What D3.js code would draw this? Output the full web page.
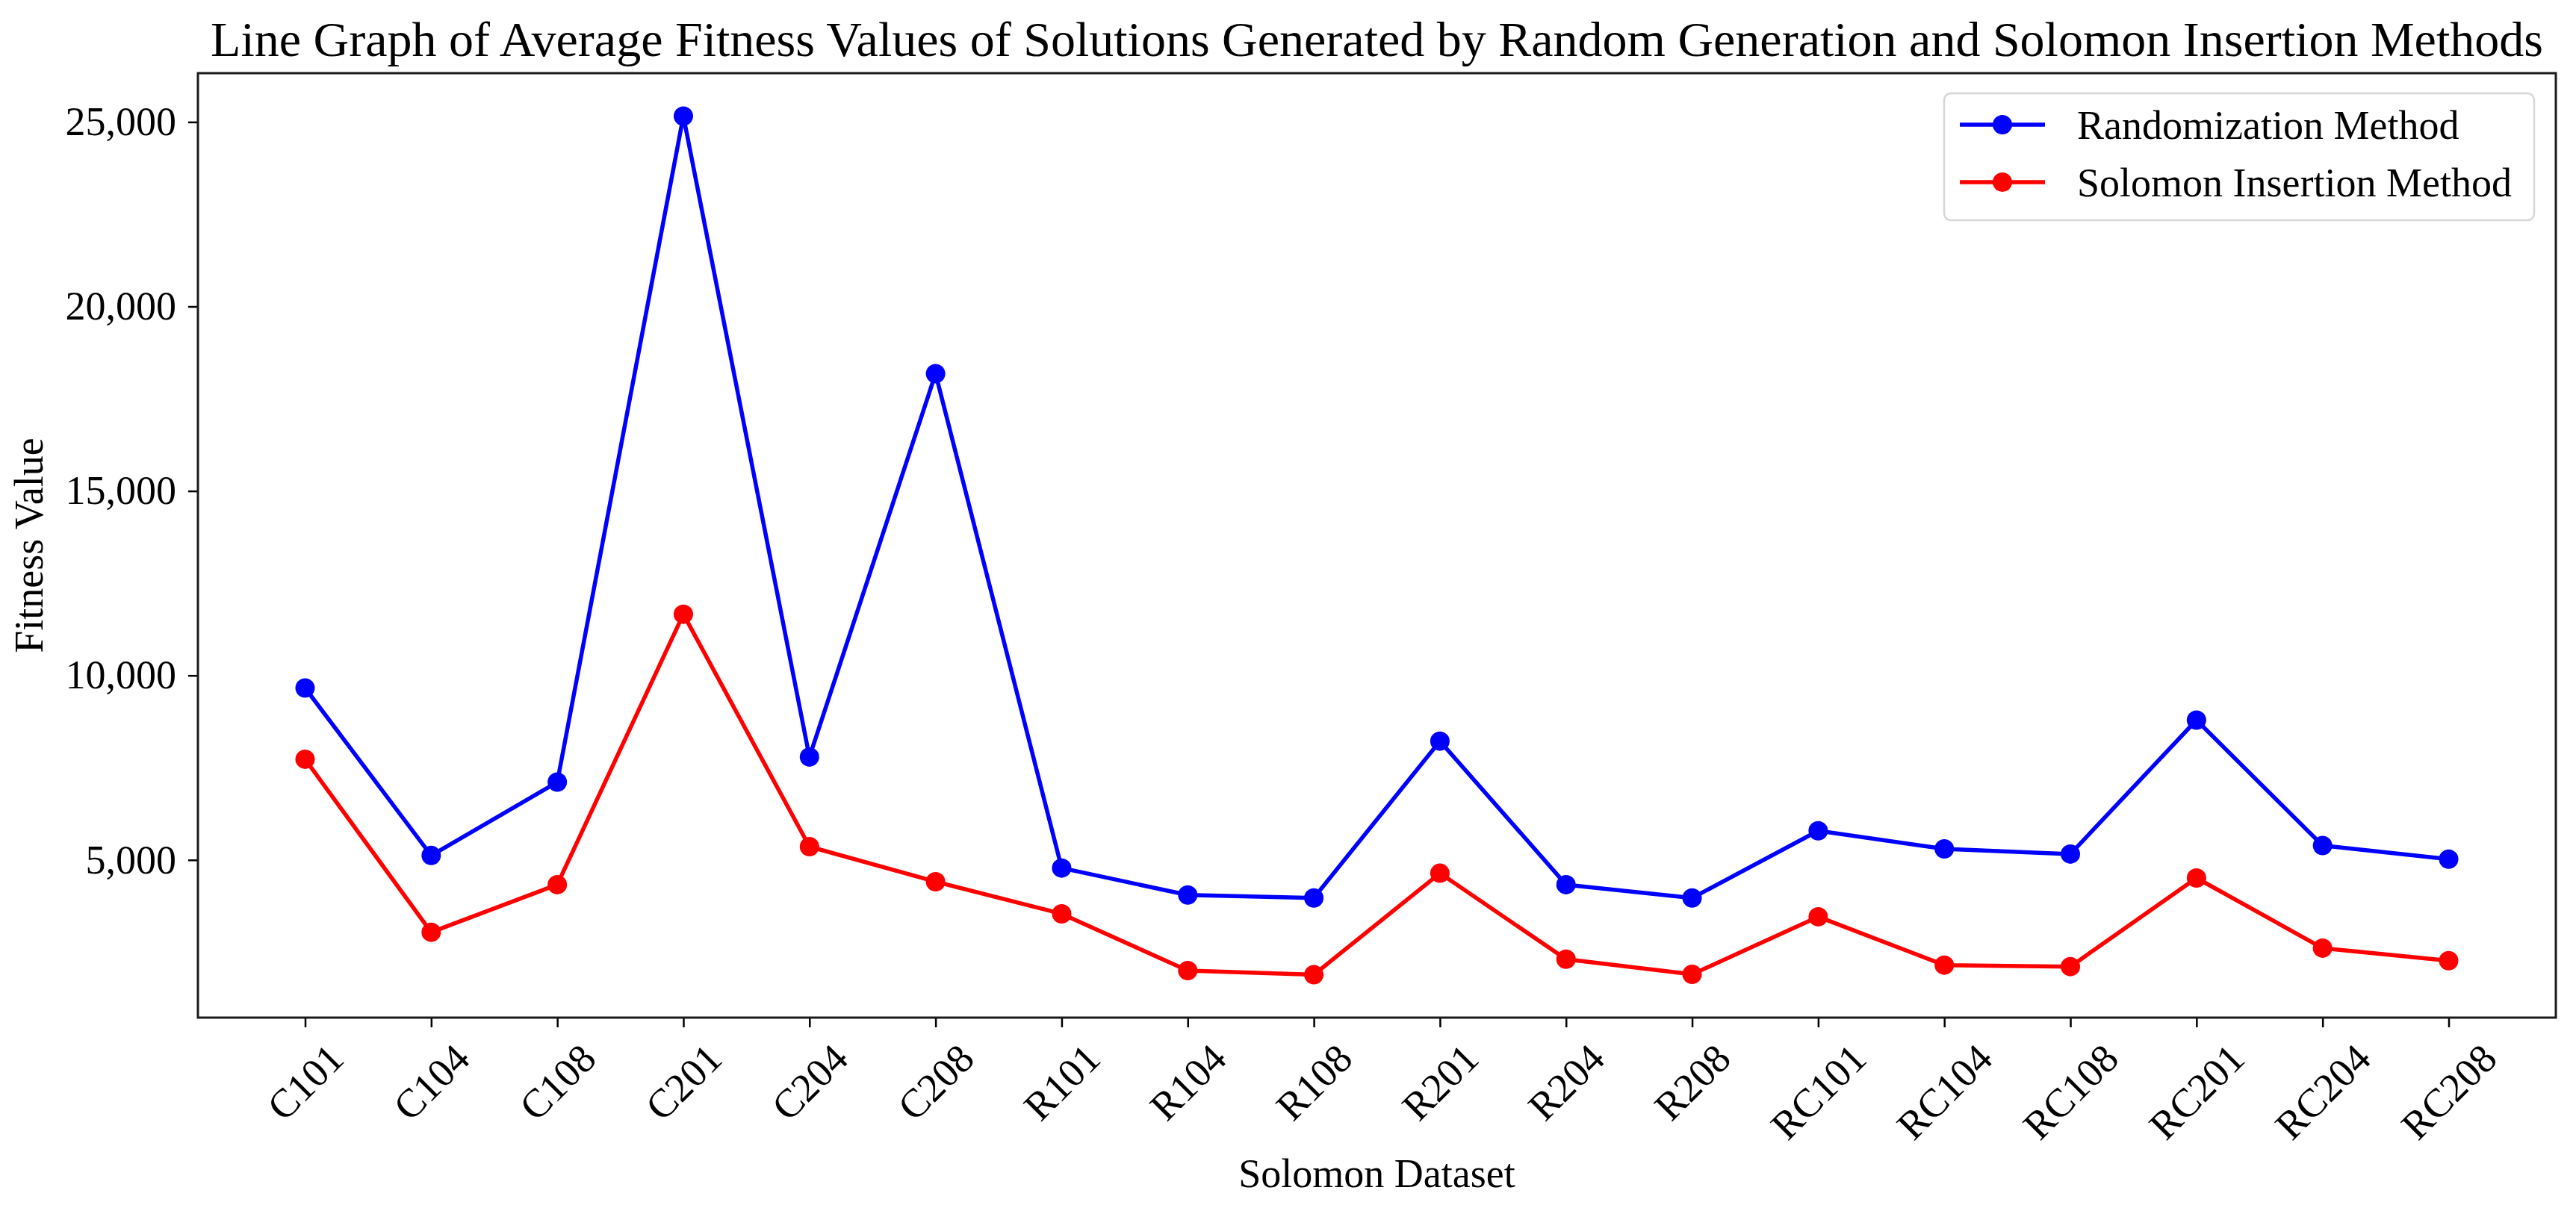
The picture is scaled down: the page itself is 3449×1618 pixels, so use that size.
<!DOCTYPE html>
<html>
<head>
<meta charset="utf-8">
<script src="https://cdn.jsdelivr.net/npm/d3@7/dist/d3.min.js"></script>
<style>
  html, body { margin: 0; padding: 0; background: #fff; }
  svg { display: block; }
  text { font-family: "Liberation Serif", "Times New Roman", serif; fill: #000; }
</style>
</head>
<body>
<svg id="chart" width="3449" height="1618"></svg>
<script>
const categories = ["C101","C104","C108","C201","C204","C208","R101","R104","R108","R201","R204","R208","RC101","RC104","RC108","RC201","RC204","RC208"];
const randomization = [9660, 5120, 7110, 25160, 7790, 18180, 4780, 4050, 3970, 8220, 4330, 3970, 5790, 5300, 5160, 8790, 5390, 5020];
const solomon = [7730, 3040, 4330, 11660, 5360, 4410, 3540, 2000, 1890, 4640, 2310, 1900, 3460, 2150, 2110, 4510, 2610, 2270];
const yTicks = [5000, 10000, 15000, 20000, 25000];
const seriesNames = ["Randomization Method", "Solomon Insertion Method"];
const seriesColors = ["#0000ff", "#ff0000"];
const titleText = "Line Graph of Average Fitness Values of Solutions Generated by Random Generation and Solomon Insertion Methods";
const xLabel = "Solomon Dataset";
const yLabel = "Fitness Value";

const W = 3449, H = 1618;
const margin = { left: 265, right: W - 3422, top: 98, bottom: H - 1363 };
const svg = d3.select("#chart");
const fs = 54;

const n = categories.length;
const xPad = 0.05 * (n - 1);
const x = d3.scaleLinear().domain([-xPad, n - 1 + xPad]).range([margin.left, W - margin.right]);

const allVals = randomization.concat(solomon);
const vMin = d3.min(allVals), vMax = d3.max(allVals);
const yPad = 0.05 * (vMax - vMin);
const y = d3.scaleLinear().domain([vMin - yPad, vMax + yPad]).range([H - margin.bottom, margin.top]);

// Title
svg.append("text")
  .attr("x", (margin.left + W - margin.right) / 2)
  .attr("y", 75)
  .attr("text-anchor", "middle")
  .style("font-size", "66px")
  .text(titleText);

// Axes
const xAxis = svg.append("g")
  .attr("transform", `translate(0,${H - margin.bottom})`)
  .call(d3.axisBottom(x).tickValues(d3.range(n)).tickFormat(i => categories[i]).tickSize(13).tickSizeOuter(0));
xAxis.select(".domain").remove();
xAxis.selectAll(".tick line").attr("stroke", "#000").attr("stroke-width", 2.5);
xAxis.selectAll(".tick text").each(function() {
  const t = d3.select(this);
  t.style("font-size", fs + "px").attr("fill", "#000");
  const w = this.getComputedTextLength();
  const half = (w + fs * 0.7) / (2 * Math.SQRT2);
  t.attr("text-anchor", "middle")
   .attr("dy", null)
   .attr("dominant-baseline", "central")
   .attr("y", 0)
   .attr("transform", `translate(0,${32 + half}) rotate(-45)`);
});

const yAxis = svg.append("g")
  .attr("transform", `translate(${margin.left},0)`)
  .call(d3.axisLeft(y).tickValues(yTicks).tickFormat(d3.format(",")).tickSize(13).tickPadding(16).tickSizeOuter(0));
yAxis.select(".domain").remove();
yAxis.selectAll(".tick line").attr("stroke", "#000").attr("stroke-width", 2.5);
yAxis.selectAll(".tick text").style("font-size", fs + "px").attr("fill", "#000");

// Frame
svg.append("rect")
  .attr("x", margin.left).attr("y", margin.top)
  .attr("width", W - margin.right - margin.left)
  .attr("height", H - margin.bottom - margin.top)
  .attr("fill", "none").attr("stroke", "#1a1a1a").attr("stroke-width", 3);

// Axis labels
svg.append("text")
  .attr("x", (margin.left + W - margin.right) / 2)
  .attr("y", 1590)
  .attr("text-anchor", "middle")
  .style("font-size", fs + "px")
  .text(xLabel);

svg.append("text")
  .attr("transform", `translate(57,${(margin.top + H - margin.bottom) / 2}) rotate(-90)`)
  .attr("text-anchor", "middle")
  .style("font-size", fs + "px")
  .text(yLabel);

// Lines
const series = [randomization, solomon];
const line = d3.line().x((d, i) => x(i)).y(d => y(d));
series.forEach((vals, si) => {
  svg.append("path")
    .attr("d", line(vals))
    .attr("fill", "none")
    .attr("stroke", seriesColors[si])
    .attr("stroke-width", 5.5)
    .attr("stroke-linejoin", "round");
  svg.append("g").selectAll("circle")
    .data(vals).join("circle")
    .attr("cx", (d, i) => x(i))
    .attr("cy", d => y(d))
    .attr("r", 13)
    .attr("fill", seriesColors[si]);
});

// Legend
const lg = svg.append("g");
lg.append("rect")
  .attr("x", 2603).attr("y", 125).attr("width", 790).attr("height", 170)
  .attr("rx", 9).attr("ry", 9)
  .attr("fill", "#fff").attr("fill-opacity", 0.8)
  .attr("stroke", "#d6d6d6").attr("stroke-width", 2.5);
seriesNames.forEach((name, i) => {
  const cy = 167 + i * 77;
  lg.append("line").attr("x1", 2624).attr("x2", 2738).attr("y1", cy).attr("y2", cy)
    .attr("stroke", seriesColors[i]).attr("stroke-width", 5.5);
  lg.append("circle").attr("cx", 2681).attr("cy", cy).attr("r", 13).attr("fill", seriesColors[i]);
  lg.append("text").attr("x", 2781).attr("y", cy + 19).style("font-size", fs + "px").text(name);
});
</script>
</body>
</html>
